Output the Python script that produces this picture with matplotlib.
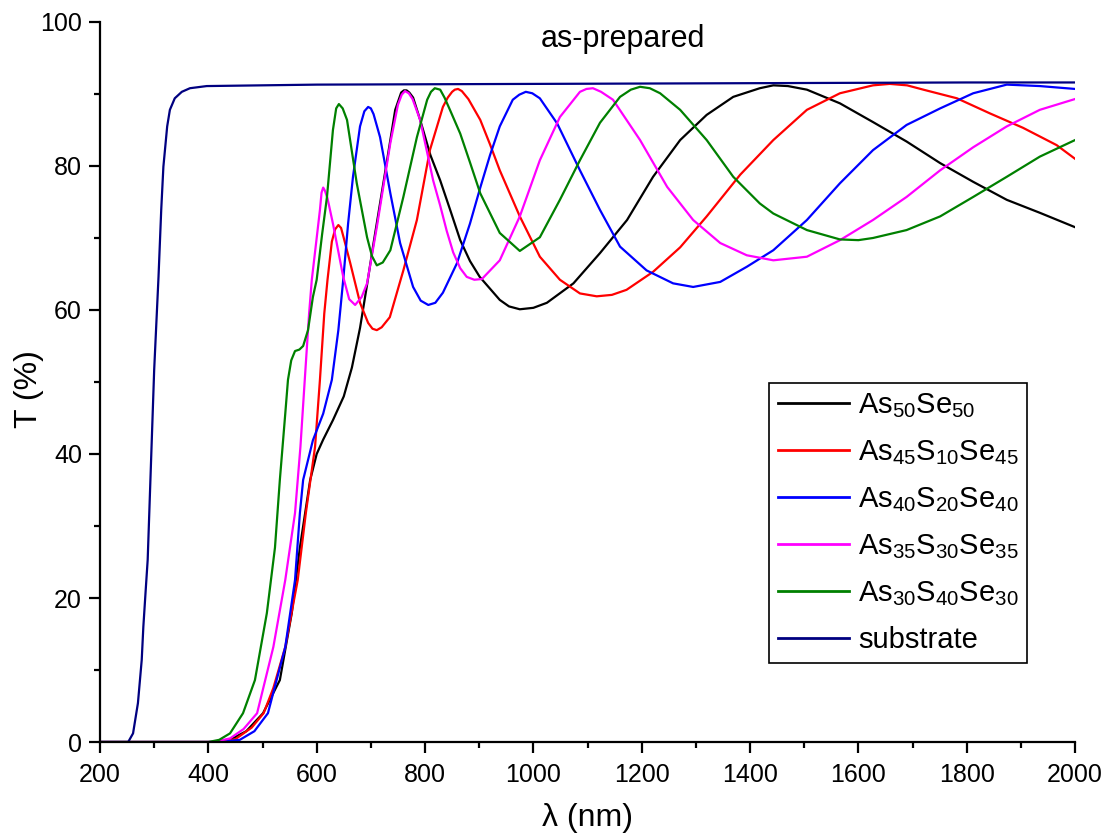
import matplotlib
matplotlib.use("Agg")
import matplotlib.pyplot as plt
from matplotlib.ticker import MultipleLocator

plt.rcParams['font.family'] = ['Liberation Sans', 'DejaVu Sans']
plt.rcParams['mathtext.fontset'] = 'custom'
plt.rcParams['mathtext.rm'] = 'Liberation Sans'

# transmission spectra of the films, wavelength (nm) vs T (%)
wl_as50 = [200, 420, 440, 470, 501, 532, 554, 569, 588, 600, 612, 630, 650, 665, 680, 693, 705, 725, 745, 756,
           761, 766, 771, 778, 791, 810, 828, 846, 865, 883, 901, 938, 955, 975, 1000, 1025, 1074, 1123, 1173,
           1221, 1271, 1320, 1369, 1418, 1443, 1470, 1505, 1566, 1627, 1689, 1751, 1812, 1874, 1935, 2000]
t_as50 = [0, 0, 0.3, 1.5, 4, 8.6, 17.9, 27, 36.4, 40, 42, 44.7, 48, 52, 57.5, 63.5, 69.3, 78.5, 87.8, 90.2,
          90.5, 90.5, 90.2, 89.5, 86.4, 81.5, 78, 74, 69.7, 66.8, 64.6, 61.4, 60.5, 60.1, 60.3, 61, 63.7, 67.9,
          72.5, 78.5, 83.6, 87.1, 89.6, 90.8, 91.2, 91.1, 90.6, 88.7, 86.1, 83.4, 80.4, 77.8, 75.3, 73.5, 71.5]

wl_s10 = [200, 420, 450, 480, 502, 520, 542, 565, 580, 597, 606, 614, 620, 628, 634, 640, 645, 650, 662, 680,
          695, 703, 711, 720, 735, 760, 785, 809, 833, 842, 850, 855, 861, 868, 880, 902, 920, 938, 975, 1012,
          1049, 1086, 1117, 1145, 1172, 1221, 1271, 1320, 1382, 1443, 1505, 1566, 1627, 1658, 1690, 1720, 1782,
          1843, 1904, 1966, 2000]
t_s10 = [0, 0, 0.4, 2, 4, 7.5, 13.2, 22.5, 31.8, 41, 50.3, 59.5, 64.2, 69.5, 71.2, 71.8, 71.4, 70, 66.5, 61,
         58.2, 57.4, 57.2, 57.6, 59, 65.5, 72.5, 82.2, 88.2, 89.5, 90.3, 90.6, 90.7, 90.4, 89.3, 86.4, 83, 79.4, 73,
         67.4, 64.2, 62.3, 61.9, 62.1, 62.8, 65.3, 68.7, 73, 78.8, 83.6, 87.8, 90.1, 91.2, 91.4, 91.2, 90.6, 89.4,
         87.3, 85.3, 82.9, 81]

wl_s20 = [200, 420, 458, 485, 510, 542, 560, 569, 575, 593, 612, 628, 640, 649, 658, 667, 680, 688, 695, 700,
          705, 717, 736, 754, 778, 792, 806, 819, 833, 859, 883, 902, 920, 938, 962, 974, 986, 998, 1012, 1044,
          1086, 1123, 1160, 1209, 1258, 1295, 1345, 1394, 1443, 1505, 1566, 1627, 1689, 1751, 1812, 1874, 1935,
          2000]
t_s20 = [0, 0, 0.3, 1.5, 4, 13.2, 22.5, 31.8, 36.4, 41.9, 45.6, 50.3, 57.2, 64.2, 72, 78.5, 85.5, 87.6, 88.2, 88,
         87.2, 84, 76.2, 69.3, 63.2, 61.3, 60.7, 61, 62.4, 66.5, 72, 77, 81.5, 85.5, 89.2, 89.9, 90.3, 90.1, 89.4,
         85.9, 79.4, 73.9, 68.8, 65.5, 63.7, 63.2, 63.9, 66, 68.3, 72.5, 77.6, 82.2, 85.7, 88, 90.1, 91.3, 91.1,
         90.7]

wl_s30 = [200, 410, 440, 465, 490, 520, 542, 560, 570, 578, 586, 591, 600, 606, 609, 612, 615, 620, 630, 649,
          660, 671, 683, 693, 711, 736, 750, 757, 763, 770, 777, 791, 815, 828, 840, 852, 865, 877, 891, 905, 938,
          975, 1012, 1049, 1086, 1098, 1110, 1125, 1147, 1197, 1247, 1295, 1345, 1394, 1443, 1505, 1566, 1627,
          1689, 1751, 1812, 1874, 1935, 2000]
t_s30 = [0, 0, 0.5, 1.8, 4, 13.2, 22.5, 31.8, 41, 50.3, 59.5, 64.2, 70, 73.9, 76.3, 77, 76.6, 75.5, 72, 64.6,
         61.5, 60.7, 61.8, 63.7, 71.5, 83.2, 88.5, 89.9, 90.4, 90.1, 89.3, 86.4, 78, 74.5, 71, 68, 65.8, 64.6, 64.2,
         64.3, 66.9, 73, 80.8, 86.8, 90.3, 90.7, 90.8, 90.3, 89.2, 83.6, 77.1, 72.5, 69.3, 67.6, 66.9, 67.4, 69.7,
         72.5, 75.7, 79.4, 82.6, 85.5, 87.8, 89.3]

wl_s40 = [200, 400, 420, 440, 464, 486, 508, 523, 532, 542, 547, 553, 560, 568, 575, 584, 593, 600, 610, 619,
          630, 636, 641, 648, 656, 674, 693, 702, 711, 722, 736, 760, 785, 804, 811, 818, 828, 836, 846, 865, 883,
          902, 938, 975, 1012, 1049, 1086, 1123, 1160, 1180, 1197, 1215, 1234, 1271, 1320, 1369, 1418, 1443, 1505,
          1566, 1600, 1627, 1689, 1751, 1812, 1874, 1935, 2000]
t_s40 = [0, 0, 0.3, 1.2, 4, 8.6, 17.9, 27, 36.4, 45.6, 50.3, 53, 54.3, 54.5, 55, 57.2, 61.8, 64.2, 70.5, 75.7,
         85, 88, 88.6, 88, 86.4, 77.6, 70.1, 67.5, 66.2, 66.6, 68.3, 75.7, 84, 89.2, 90.3, 90.8, 90.6, 89.5, 87.8,
         84.5, 80.5, 76.2, 70.7, 68.2, 70.1, 75.3, 80.8, 86, 89.6, 90.6, 91, 90.8, 90.1, 87.8, 83.6, 78.5, 74.8,
         73.4, 71.1, 69.8, 69.7, 70, 71.1, 73, 75.7, 78.5, 81.3, 83.6]

wl_sub = [200, 252, 261, 270, 277, 280, 284, 288, 300, 308, 313, 317, 324, 329, 338, 351, 366, 397, 600, 1000,
          1400, 1800, 2000]
t_sub = [0, 0, 1.2, 5.4, 11.4, 16, 20.7, 25.3, 51.7, 64.6, 73.9, 79.9, 85.5, 87.8, 89.4, 90.3, 90.8, 91.1, 91.3,
         91.4, 91.5, 91.6, 91.6]

series = [
    (wl_as50, t_as50, 'black', r'As$_\mathregular{50}$Se$_\mathregular{50}$'),
    (wl_s10, t_s10, '#ff0000', r'As$_\mathregular{45}$S$_\mathregular{10}$Se$_\mathregular{45}$'),
    (wl_s20, t_s20, '#0000ff', r'As$_\mathregular{40}$S$_\mathregular{20}$Se$_\mathregular{40}$'),
    (wl_s30, t_s30, '#ff00ff', r'As$_\mathregular{35}$S$_\mathregular{30}$Se$_\mathregular{35}$'),
    (wl_s40, t_s40, '#008000', r'As$_\mathregular{30}$S$_\mathregular{40}$Se$_\mathregular{30}$'),
    (wl_sub, t_sub, '#000080', 'substrate'),
]

fig = plt.figure(figsize=(11.1, 8.39), dpi=100)
ax = fig.add_axes([0.0901, 0.1156, 0.8784, 0.8582])

for wl, t, col, lab in series:
    ax.plot(wl, t, color=col, lw=1.6, label=lab)

ax.set_xlim(200, 2000)
ax.set_ylim(0, 100)
ax.xaxis.set_major_locator(MultipleLocator(200))
ax.xaxis.set_minor_locator(MultipleLocator(100))
ax.yaxis.set_major_locator(MultipleLocator(20))
ax.yaxis.set_minor_locator(MultipleLocator(10))

for side in ['top', 'right']:
    ax.spines[side].set_visible(False)
for side in ['left', 'bottom']:
    ax.spines[side].set_linewidth(1.6)

ax.tick_params(which='major', direction='out', length=8, width=1.6, labelsize=18, pad=5)
ax.tick_params(which='minor', direction='out', length=4.5, width=1.6)
ax.tick_params(axis='x', which='major', pad=7)

ax.set_xlabel('λ (nm)', fontsize=23)
ax.set_ylabel('T (%)', fontsize=23)
ax.xaxis.set_label_coords(0.5, -0.085)
ax.yaxis.set_label_coords(-0.057, 0.49)

ax.text(1165, 97.6, 'as-prepared', fontsize=22, ha='center', va='center')

leg = ax.legend(loc='upper left', bbox_to_anchor=(0.686, 0.499), borderaxespad=0, fontsize=21,
                handlelength=2.45, handletextpad=0.3, labelspacing=0.62, borderpad=0.3,
                fancybox=False, framealpha=1, edgecolor='black')
leg.get_frame().set_linewidth(1.2)
for line in leg.get_lines():
    line.set_linewidth(2)

fig.savefig('out.png', dpi=100)
